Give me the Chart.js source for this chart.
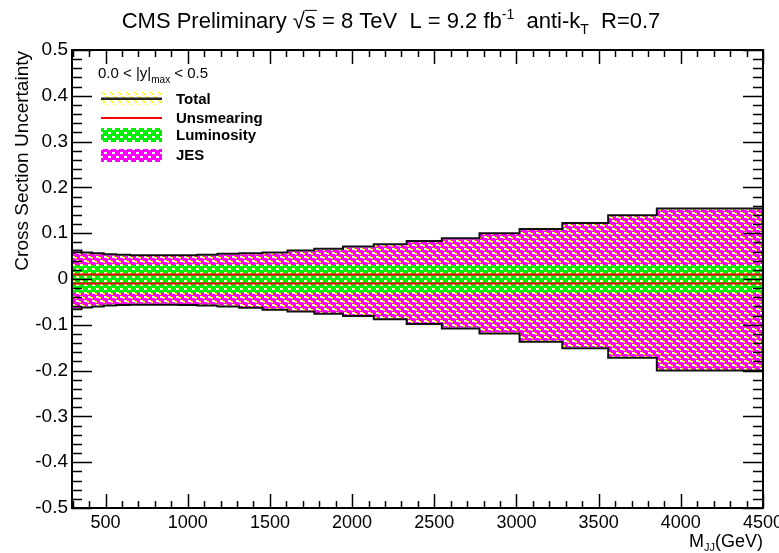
<!DOCTYPE html>
<html>
<head>
<meta charset="utf-8">
<title>Cross Section Uncertainty</title>
<script src="https://cdn.jsdelivr.net/npm/chart.js@4.4.1/dist/chart.umd.min.js"></script>
<style>
  html, body { margin: 0; padding: 0; background: #fff; }
  #wrap { width: 779px; height: 553px; }
</style>
</head>
<body>
<div id="wrap"><canvas id="unc"></canvas></div>
<script>
// dijet mass bin edges (GeV)
const edges = [296, 354, 419, 489, 565, 649, 740, 838, 944, 1058, 1181, 1313, 1455, 1607, 1770,
  1945, 2132, 2332, 2546, 2775, 3019, 3279, 3558, 3854, 4171, 4500];

const totalUp = [0.073, 0.062, 0.058, 0.056, 0.054, 0.053, 0.052, 0.052, 0.052, 0.052, 0.053, 0.055,
  0.056, 0.058, 0.062, 0.066, 0.071, 0.076, 0.083, 0.089, 0.100, 0.109, 0.122, 0.139, 0.154];
const totalDown = [-0.077, -0.066, -0.062, -0.060, -0.058, -0.057, -0.056, -0.056, -0.056, -0.057, -0.058, -0.060,
  -0.063, -0.067, -0.071, -0.076, -0.081, -0.088, -0.098, -0.108, -0.119, -0.137, -0.151, -0.172, -0.200];

const jesUp = [0.071, 0.060, 0.056, 0.054, 0.052, 0.051, 0.050, 0.050, 0.050, 0.050, 0.051, 0.053,
  0.054, 0.056, 0.060, 0.064, 0.069, 0.074, 0.081, 0.087, 0.098, 0.107, 0.120, 0.137, 0.152];
const jesDown = [-0.075, -0.064, -0.060, -0.058, -0.056, -0.055, -0.054, -0.054, -0.054, -0.055, -0.056, -0.058,
  -0.061, -0.065, -0.069, -0.074, -0.079, -0.086, -0.096, -0.106, -0.117, -0.135, -0.149, -0.170, -0.198];

const lumiUp = [0.03, 0.03, 0.03, 0.03, 0.03, 0.03, 0.03, 0.03, 0.03, 0.03, 0.03, 0.03, 0.03,
  0.03, 0.03, 0.03, 0.03, 0.03, 0.03, 0.03, 0.03, 0.03, 0.03, 0.03, 0.03];
const lumiDown = [-0.03, -0.03, -0.03, -0.03, -0.03, -0.03, -0.03, -0.03, -0.03, -0.03, -0.03, -0.03, -0.03,
  -0.03, -0.03, -0.03, -0.03, -0.03, -0.03, -0.03, -0.03, -0.03, -0.03, -0.03, -0.03];

const unsmearUp = [0.01, 0.01, 0.01, 0.01, 0.01, 0.01, 0.01, 0.01, 0.01, 0.01, 0.01, 0.01, 0.01,
  0.01, 0.01, 0.01, 0.01, 0.01, 0.01, 0.01, 0.01, 0.01, 0.01, 0.01, 0.01];
const unsmearDown = [-0.01, -0.01, -0.01, -0.01, -0.01, -0.01, -0.01, -0.01, -0.01, -0.01, -0.01, -0.01, -0.01,
  -0.01, -0.01, -0.01, -0.01, -0.01, -0.01, -0.01, -0.01, -0.01, -0.01, -0.01, -0.01];

const xTicks = [500, 1000, 1500, 2000, 2500, 3000, 3500, 4000, 4500];
const legendNames = ["Total", "Unsmearing", "Luminosity", "JES"];

const FONT = "'Liberation Sans', Arial, Helvetica, sans-serif";

// turn per-bin values into step points
function histo(vals) {
  const pts = vals.map((v, i) => ({ x: edges[i], y: v }));
  pts.push({ x: edges[edges.length - 1], y: vals[vals.length - 1] });
  return pts;
}

// 8x8 hatch tiles, ROOT-ish fill styles
function makePattern(bg, marks, color, clear) {
  const c = document.createElement("canvas");
  c.width = 8; c.height = 8;
  const g = c.getContext("2d");
  if (bg) { g.fillStyle = bg; g.fillRect(0, 0, 8, 8); }
  marks.forEach(m => {
    if (clear) g.clearRect(m[0], m[1], m[2], m[3]);
    else { g.fillStyle = color; g.fillRect(m[0], m[1], m[2], m[3]); }
  });
  return g.createPattern(c, "repeat");
}
const jesFill = makePattern("#ff00ff", [[0, 0, 3, 2], [4, 4, 3, 2]], "#ffffff", false);
const totalFill = makePattern(null, [[3, 1, 2, 2], [7, 5, 1, 2], [0, 5, 1, 2], [2, 0, 1, 1], [6, 4, 1, 1]], "#ffff00", false);
const lumiFill = makePattern("#00ee00", [[0, 0, 3, 2], [4, 4, 3, 2]], null, true);

function band(label, vals, fill, order) {
  return {
    label, data: histo(vals), stepped: "after", fill: "origin",
    backgroundColor: fill, borderWidth: 0, pointRadius: 0, order
  };
}
function edgeLine(label, vals, color, order) {
  return {
    label, data: histo(vals), stepped: "after", fill: false,
    borderColor: color, borderWidth: 2, pointRadius: 0, order
  };
}

// rich text pieces: {t, size, dy, bar, bold}
function drawRich(ctx, parts, x, y, align) {
  let w = 0;
  parts.forEach(p => { ctx.font = (p.bold ? "bold " : "") + p.size + "px " + FONT; p.w = ctx.measureText(p.t).width; w += p.w; });
  let cx = align === "center" ? x - w / 2 : align === "right" ? x - w : x;
  ctx.textAlign = "left";
  ctx.textBaseline = "alphabetic";
  parts.forEach(p => {
    ctx.font = (p.bold ? "bold " : "") + p.size + "px " + FONT;
    ctx.fillText(p.t, cx, y + (p.dy || 0));
    if (p.bar) {
      ctx.beginPath();
      ctx.lineWidth = 1;
      ctx.moveTo(cx, y - p.size * 0.8);
      ctx.lineTo(cx + p.w + 1, y - p.size * 0.8);
      ctx.stroke();
    }
    cx += p.w;
  });
}

const decorations = {
  id: "decorations",
  afterDraw(chart) {
    const ctx = chart.ctx;
    const { left, right, top, bottom } = chart.chartArea;
    const xs = chart.scales.x, ys = chart.scales.y;
    ctx.save();
    ctx.fillStyle = "#000";
    ctx.strokeStyle = "#000";

    // frame and inward ticks on all four sides
    ctx.lineWidth = 2;
    ctx.strokeRect(left, top, right - left, bottom - top);
    ctx.lineWidth = 1.5;
    ctx.beginPath();
    for (let v = 300; v <= 4500; v += 100) {
      const px = Math.round(xs.getPixelForValue(v)) + 0.5;
      const len = v % 500 === 0 ? 14 : 7;
      ctx.moveTo(px, bottom); ctx.lineTo(px, bottom - len);
      ctx.moveTo(px, top); ctx.lineTo(px, top + len);
    }
    for (let i = -25; i <= 25; i++) {
      const py = Math.round(ys.getPixelForValue(i * 0.02)) + 0.5;
      const len = i % 5 === 0 ? 20 : 10;
      ctx.moveTo(left, py); ctx.lineTo(left + len, py);
      ctx.moveTo(right, py); ctx.lineTo(right - len, py);
    }
    ctx.stroke();

    // title
    drawRich(ctx, [
      { t: "CMS Preliminary ", size: 22 },
      { t: "\u221A", size: 22 },
      { t: "s", size: 22, bar: true },
      { t: " = 8 TeV  L = 9.2 fb", size: 22 },
      { t: "-1", size: 14, dy: -9 },
      { t: "  anti-k", size: 22 },
      { t: "T", size: 14, dy: 6 },
      { t: "  R=0.7", size: 22 }
    ], 391, 28, "center");

    // axis titles
    drawRich(ctx, [
      { t: "M", size: 18 },
      { t: "JJ", size: 11, dy: 4 },
      { t: "(GeV)", size: 18 }
    ], right, 547, "right");
    ctx.save();
    ctx.translate(28, top + 1);
    ctx.rotate(-Math.PI / 2);
    ctx.font = "19px " + FONT;
    ctx.textAlign = "right";
    ctx.textBaseline = "alphabetic";
    ctx.fillText("Cross Section Uncertainty", 0, 0);
    ctx.restore();

    // legend
    drawRich(ctx, [
      { t: "0.0 < |y|", size: 15 },
      { t: "max", size: 10, dy: 5 },
      { t: " < 0.5", size: 15 }
    ], 98, 78, "left");
    const sx = 101, sw = 61;
    ctx.fillStyle = "#fff";
    ctx.fillRect(sx, 92, sw, 13);
    ctx.fillStyle = totalFill; ctx.fillRect(sx, 92, sw, 13);
    ctx.fillStyle = "#222"; ctx.fillRect(sx, 97.5, sw, 2.5);
    ctx.fillStyle = "#ff0000"; ctx.fillRect(sx, 117, sw, 2);
    ctx.fillStyle = "#fff"; ctx.fillRect(sx, 128, sw, 14);
    ctx.fillStyle = lumiFill; ctx.fillRect(sx, 128, sw, 14);
    ctx.fillStyle = jesFill; ctx.fillRect(sx, 149, sw, 13);
    ctx.fillStyle = "#000";
    ctx.font = "bold 15px " + FONT;
    ctx.textAlign = "left";
    [104, 123, 140, 160].forEach((y, i) => ctx.fillText(legendNames[i], 176, y));
    ctx.restore();
  }
};

new Chart(document.getElementById("unc"), {
  type: "line",
  data: {
    datasets: [
      edgeLine("Total", totalUp, "#111", 1),
      edgeLine("Total", totalDown, "#111", 1),
      edgeLine("Unsmearing", unsmearUp, "#ee0000", 2),
      edgeLine("Unsmearing", unsmearDown, "#ee0000", 2),
      band("Luminosity", lumiUp, lumiFill, 4),
      band("Luminosity", lumiDown, lumiFill, 4),
      band("Total", totalUp, totalFill, 5),
      band("Total", totalDown, totalFill, 5),
      band("JES", jesUp, jesFill, 6),
      band("JES", jesDown, jesFill, 6)
    ]
  },
  options: {
    responsive: true,
    maintainAspectRatio: false,
    animation: false,
    layout: { padding: { top: 50, right: 16, left: 0, bottom: 0 } },
    plugins: { legend: { display: false }, tooltip: { enabled: false } },
    scales: {
      x: {
        type: "linear", min: 296, max: 4500,
        grid: { display: false, drawTicks: false }, border: { display: false },
        afterBuildTicks: s => { s.ticks = xTicks.map(v => ({ value: v })); },
        afterFit: s => { s.height = 45; s.paddingLeft = 0; s.paddingRight = 0; },
        ticks: {
          color: "#000", font: { family: FONT, size: 18 }, padding: 4, maxRotation: 0, autoSkip: false,
          callback: v => String(v)
        }
      },
      y: {
        min: -0.5, max: 0.5,
        grid: { display: false, drawTicks: false }, border: { display: false },
        afterFit: s => { s.width = 72; },
        ticks: { stepSize: 0.1, color: "#000", font: { family: FONT, size: 19 }, padding: 4 }
      }
    }
  },
  plugins: [decorations]
});
</script>
</body>
</html>
